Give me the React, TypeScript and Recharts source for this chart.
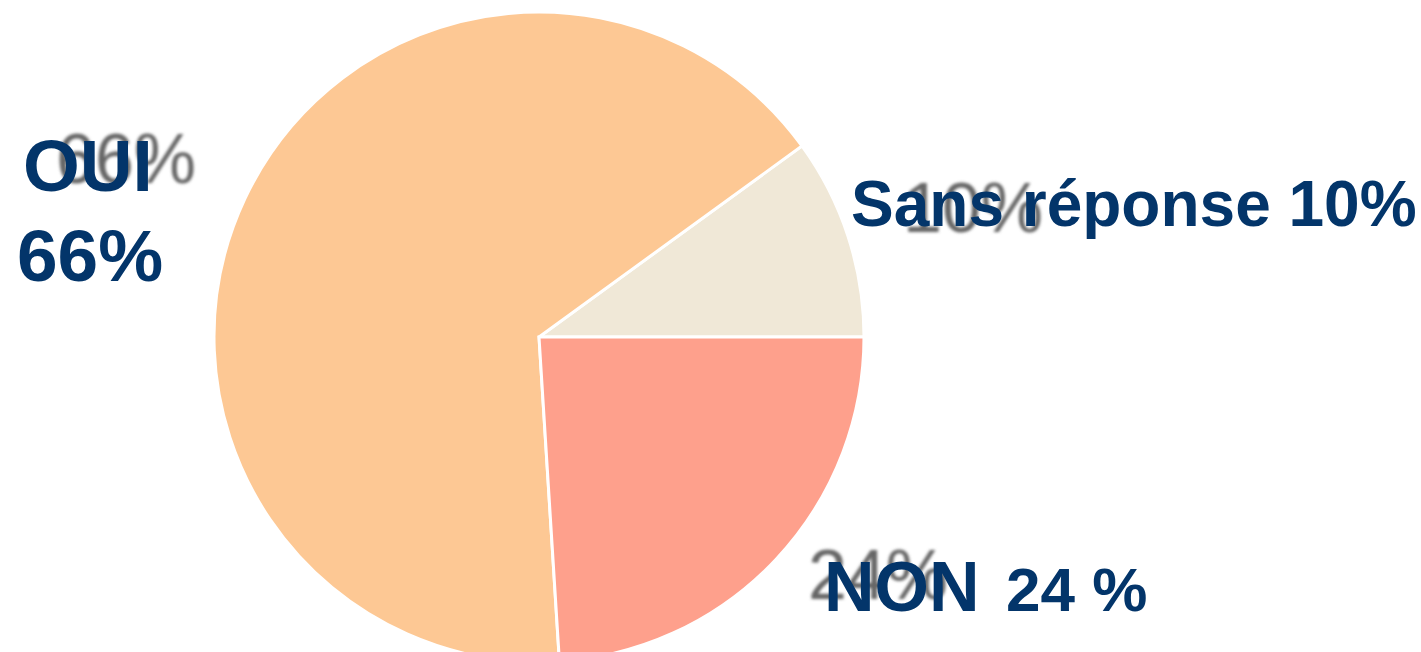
import React from 'react';
import { Cell, Pie, PieChart } from 'recharts';

const CATEGORIES = ['Sans réponse', 'OUI', 'NON'];
const VALUES = [10, 66, 24];
const MAIN_LABELS = ['Sans réponse 10%', 'OUI\n66%', 'NON|24 %'];
const GHOST_LABELS = ['10%', '66%', '24%'];
const COLORS = ['#F0E8D7', '#FDC894', '#FEA08C'];

const DATA = CATEGORIES.map((name, i) => ({ name, value: VALUES[i] }));

const NAVY = '#03356A';
const FONT = '"Liberation Sans", Arial, sans-serif';

// label placement relative to pie centre
const LABEL_OFFSETS = [
  { ghost: [364, -105], main: [312, -111] },
  { ghost: [-483, -154], main: [-516, -146] },
  { ghost: [269, 262], main: [285, 274] },
];

function renderLabel(props: any) {
  const { cx, cy, index } = props;
  const off = LABEL_OFFSETS[index];
  const gx = cx + off.ghost[0];
  const gy = cy + off.ghost[1];
  const mx = cx + off.main[0];
  const my = cy + off.main[1];
  const text = MAIN_LABELS[index];

  let main: React.ReactNode;
  if (index === 1) {
    const [a, b] = text.split('\n');
    main = (
      <text x={mx} y={my} fill={NAVY} fontFamily={FONT} fontWeight="bold" fontSize={73}>
        <tspan x={mx} y={my}>{a}</tspan>
        <tspan x={mx - 6} y={my + 90}>{b}</tspan>
      </text>
    );
  } else if (index === 2) {
    const [a, b] = text.split('|');
    main = (
      <text x={mx} y={my} fill={NAVY} fontFamily={FONT} fontWeight="bold">
        <tspan fontSize={70}>{a}</tspan>
        <tspan x={mx + 182} fontSize={62}>{b}</tspan>
      </text>
    );
  } else {
    main = (
      <text x={mx} y={my} fill={NAVY} fontFamily={FONT} fontWeight="bold" fontSize={64}>
        {text}
      </text>
    );
  }

  return (
    <g key={`lbl-${index}`}>
      <defs>
        <filter id={`ghostBlur${index}`} x="-10%" y="-10%" width="120%" height="120%">
          <feGaussianBlur stdDeviation="1.4" />
        </filter>
      </defs>
      <text
        x={gx}
        y={gy}
        fill="#666"
        fontFamily={FONT}
        fontSize={70}
        filter={`url(#ghostBlur${index})`}
      >
        {GHOST_LABELS[index]}
      </text>
      {main}
    </g>
  );
}

export default function App() {
  return (
    <div style={{ position: 'absolute', left: 0, top: 0, width: 1421, height: 652, background: '#fff' }}>
      <PieChart width={1421} height={652} margin={{ top: 0, right: 0, bottom: 0, left: 0 }}>
        <Pie
          data={DATA}
          dataKey="value"
          nameKey="name"
          cx={539}
          cy={337}
          outerRadius={325}
          startAngle={0}
          endAngle={360}
          stroke="#fff"
          strokeWidth={3}
          labelLine={false}
          label={renderLabel}
          isAnimationActive={false}
        >
          {DATA.map((d, i) => (
            <Cell key={d.name} fill={COLORS[i]} />
          ))}
        </Pie>
      </PieChart>
    </div>
  );
}
